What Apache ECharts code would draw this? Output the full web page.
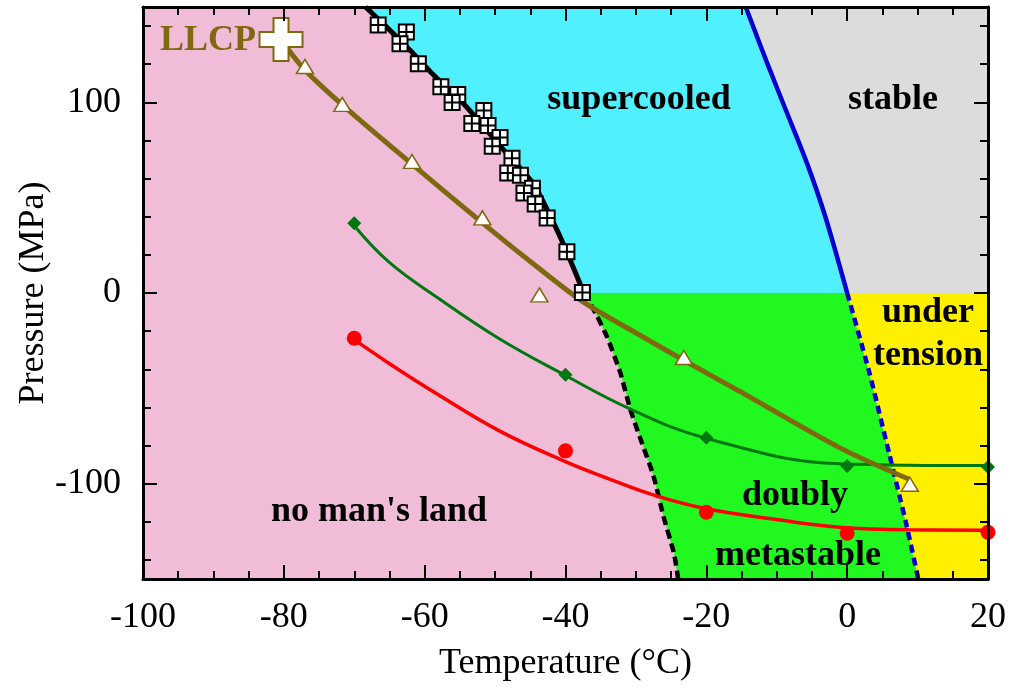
<!DOCTYPE html>
<html><head><meta charset="utf-8">
<script src="https://cdn.jsdelivr.net/npm/echarts@6/dist/echarts.min.js"></script>
<style>html,body{margin:0;padding:0;background:#fff}#c{width:1010px;height:687px}</style>
</head><body><div id="c"></div>
<script>
// ---- axis ranges / ticks ----
const xRange = [-100, 20];
const yRange = [-150, 150];
const yTickLabels = [-100, 0, 100];

// ---- boundary lines ----
// homogeneous nucleation line, measured part (P >= 0)
const hnT = [-68.4, -65.1, -62.0, -59.1, -54.4, -51.1, -48.7, -44.5, -41.2, -39.3, -37.4];
const hnP = [150, 138.4, 127, 115.7, 99, 85, 74.7, 57, 33, 17, 0];
// homogeneous nucleation line, extrapolated (dashed, P < 0)
const hnDashT = [-37.4, -35.7, -34.1, -32.2, -30.8, -29.4, -27.5, -26.1, -24.6, -24.0];
const hnDashP = [0, -10.8, -23, -42, -61, -76, -96, -117, -136.5, -150];
// melting line of ice Ih (solid, P >= 0)
const meltT = [-14.4, -11.3, -8.5, -5.7, -3.1, 0];
const meltP = [150, 120, 94, 68, 40, 0];
// melting line extrapolated (dashed, P < 0)
const meltDashT = [0, 3.1, 6.0, 8.4, 10.1];
const meltDashP = [0, -41, -84.8, -121.3, -150];

// ---- nucleation data (squares) ----
const sqT = [-66.6, -62.6, -63.5, -60.9, -57.7, -55.3, -56.1, -51.6, -53.3, -51.0, -49.3, -50.4, -47.6, -48.2, -46.4, -44.7, -45.9, -44.3, -42.6, -39.8, -37.6];
const sqP = [140.6, 136.9, 130.7, 120.3, 108.2, 104.1, 99.9, 95.7, 88.9, 87.9, 81.6, 77.0, 70.7, 62.9, 61.8, 55.0, 52.4, 46.7, 39.4, 21.6, 0.3];

// ---- LLCP and triangles (brown) ----
const llcpT = [-80.4];
const llcpP = [133];
const triT = [-77.0, -71.7, -61.8, -51.8, -43.7, -23.2, 8.9];
const triP = [118.8, 98.9, 69, 39.4, -1, -33.8, -100.3];
const brownFitT = [-80.4, -77.0, -71.2, -61.8, -51.8, -45.4, -37.6, -29.5, -22.9, -15.3, -1.1, 8.8];
const brownFitP = [133, 117, 97.1, 67.6, 36.8, 17.7, -4.4, -22.0, -35.9, -51.5, -81.1, -97.7];

// ---- green diamonds ----
const greenT = [-70, -40, -20, 0, 20];
const greenP = [36.6, -42.9, -75.9, -90.7, -91.2];
const greenFitT = [-70.3, -65.1, -58.0, -49.4, -40.2, -31.0, -20.3, -1.1, 20];
const greenFitP = [36.6, 16.3, -2.9, -24.0, -42.9, -60.5, -75.9, -89.5, -90.5];

// ---- red circles ----
const redT = [-70, -40, -20, 0, 20];
const redP = [-23.7, -82.8, -115, -126, -125.5];
const redFitT = [-70.3, -65.1, -58.0, -49.4, -40.1, -34.3, -27.2, -20.2, -10.0, -1.1, 8.8, 19.9];
const redFitP = [-23.7, -36.8, -53.5, -72.3, -88.3, -96.8, -106.3, -113.0, -118.8, -122.8, -124.2, -124.4];

const zip = (a, b) => a.map((v, i) => [v, b[i]]);
const rev = a => a.slice().reverse();

const COL = {
  pink: '#F0BCD8', cyan: '#50F0FF', gray: '#DCDCDC', green: '#20F820', yellow: '#FFF000',
  brown: '#806810', dgreen: '#007810', red: '#FF0000', blue: '#0000CC'
};

const regions = [
  { fill: COL.cyan,  pts: zip(hnT, hnP).concat(rev(zip(meltT, meltP))) },
  { fill: COL.gray,  pts: zip(meltT, meltP).concat([[xRange[1], 0], [xRange[1], yRange[1]]]) },
  { fill: COL.green, pts: zip(hnDashT, hnDashP).concat(rev(zip(meltDashT, meltDashP))) },
  { fill: COL.yellow, pts: zip(meltDashT, meltDashP).concat([[xRange[1], yRange[0]], [xRange[1], 0]]) }
];

const FONT = '"Liberation Serif", "Times New Roman", serif';
const tickStyle = { show: true, inside: true, length: 14, lineStyle: { color: '#000', width: 2 } };
const minorStyle = (n) => ({ show: true, splitNumber: n, length: 8, lineStyle: { color: '#000', width: 2 } });
const axisLine = { show: true, onZero: false, lineStyle: { color: '#000', width: 3 } };

const chart = echarts.init(document.getElementById('c'), null, { renderer: 'canvas' });
chart.setOption({
  animation: false,
  backgroundColor: '#fff',
  grid: { left: 143, right: 22, top: 7, bottom: 105, show: true, backgroundColor: COL.pink, borderWidth: 0 },
  xAxis: [
    { type: 'value', min: xRange[0], max: xRange[1], interval: 20, position: 'bottom', z: 10,
      axisLine, axisTick: tickStyle, minorTick: minorStyle(4), splitLine: { show: false },
      axisLabel: { margin: 21, color: '#000', fontSize: 36, fontFamily: FONT },
      name: 'Temperature (°C)', nameLocation: 'middle', nameGap: 67, nameMoveOverlap: false,
      nameTextStyle: { color: '#000', fontSize: 36, fontFamily: FONT } },
    { type: 'value', min: xRange[0], max: xRange[1], interval: 20, position: 'top', z: 10,
      axisLine, axisTick: tickStyle, minorTick: minorStyle(4), splitLine: { show: false },
      axisLabel: { show: false } }
  ],
  yAxis: [
    { type: 'value', min: yRange[0], max: yRange[1], splitNumber: 3, position: 'left', z: 10,
      axisLine, axisTick: tickStyle, minorTick: minorStyle(5), splitLine: { show: false },
      axisLabel: { margin: 22, color: '#000', fontSize: 36, fontFamily: FONT,
        formatter: v => (yTickLabels.indexOf(v) >= 0 ? String(v) : '') },
      name: 'Pressure (MPa)', nameLocation: 'middle', nameGap: 91, nameMoveOverlap: false,
      nameTextStyle: { color: '#000', fontSize: 36, fontFamily: FONT } },
    { type: 'value', min: yRange[0], max: yRange[1], splitNumber: 3, position: 'right', z: 10,
      axisLine, axisTick: tickStyle, minorTick: minorStyle(5), splitLine: { show: false },
      axisLabel: { show: false } }
  ],
  series: [
    { type: 'custom', z: 1, silent: true, clip: true,
      data: regions.map((r, i) => [i, 0]),
      renderItem: (params, api) => {
        const r = regions[params.dataIndex];
        return { type: 'polygon', shape: { points: r.pts.map(p => api.coord(p)) },
                 style: { fill: r.fill, stroke: null } };
      } },
    { type: 'line', z: 2, symbol: 'none', smooth: 0.2, data: zip(hnT, hnP), lineStyle: { color: '#000', width: 5 } },
    { type: 'line', z: 2, symbol: 'none', smooth: 0.2, data: zip(hnDashT, hnDashP), lineStyle: { color: '#000', width: 4.5, type: [9, 5] } },
    { type: 'line', z: 2, symbol: 'none', smooth: 0.3, data: zip(meltT, meltP), lineStyle: { color: COL.blue, width: 4.5 } },
    { type: 'line', z: 2, symbol: 'none', smooth: 0.2, data: zip(meltDashT, meltDashP), lineStyle: { color: COL.blue, width: 4.5, type: [8, 5] } },
    { type: 'line', z: 3, symbol: 'none', smooth: 0.4, data: zip(redFitT, redFitP), lineStyle: { color: COL.red, width: 3.5 } },
    { type: 'line', z: 3, symbol: 'none', smooth: 0.4, data: zip(greenFitT, greenFitP), lineStyle: { color: COL.dgreen, width: 3 } },
    { type: 'line', z: 3, symbol: 'none', smooth: 0.3, data: zip(brownFitT, brownFitP), lineStyle: { color: COL.brown, width: 5 } },
    { type: 'scatter', z: 4, data: zip(sqT, sqP), symbol: 'path://M0,0H12V12H0Z M6,0V12 M0,6H12', symbolSize: 15,
      itemStyle: { color: '#fff', borderColor: '#000', borderWidth: 2, opacity: 1 } },
    { type: 'scatter', z: 4, data: zip(triT, triP), symbol: 'triangle', symbolSize: [17, 14],
      itemStyle: { color: '#fff', borderColor: COL.brown, borderWidth: 1.5, opacity: 1 } },
    { type: 'scatter', z: 4, data: zip(greenT, greenP), symbol: 'diamond', symbolSize: [14, 14],
      itemStyle: { color: COL.dgreen, opacity: 1 } },
    { type: 'scatter', z: 4, data: zip(redT, redP), symbol: 'circle', symbolSize: 15,
      itemStyle: { color: COL.red, opacity: 1 } },
    { type: 'scatter', z: 5, data: zip(llcpT, llcpP), symbol: 'path://M14,0H29V14H43V29H29V43H14V29H0V14H14Z', symbolSize: 43,
      itemStyle: { color: '#fff', borderColor: COL.brown, borderWidth: 2, opacity: 1 } }
  ],
  graphic: [
    { type: 'text', x: 160, y: 41, z: 100, style: { text: 'LLCP', fill: COL.brown, font: 'bold 36px ' + FONT, align: 'left', verticalAlign: 'middle' } },
    { type: 'text', x: 639, y: 100, z: 100, style: { text: 'supercooled', fill: '#000', font: 'bold 36px ' + FONT, align: 'center', verticalAlign: 'middle' } },
    { type: 'text', x: 893, y: 100, z: 100, style: { text: 'stable', fill: '#000', font: 'bold 36px ' + FONT, align: 'center', verticalAlign: 'middle' } },
    { type: 'text', x: 928, y: 313, z: 100, style: { text: 'under', fill: '#000', font: 'bold 36px ' + FONT, align: 'center', verticalAlign: 'middle' } },
    { type: 'text', x: 928, y: 356, z: 100, style: { text: 'tension', fill: '#000', font: 'bold 36px ' + FONT, align: 'center', verticalAlign: 'middle' } },
    { type: 'text', x: 795, y: 496, z: 100, style: { text: 'doubly', fill: '#000', font: 'bold 36px ' + FONT, align: 'center', verticalAlign: 'middle' } },
    { type: 'text', x: 798, y: 556, z: 100, style: { text: 'metastable', fill: '#000', font: 'bold 36px ' + FONT, align: 'center', verticalAlign: 'middle' } },
    { type: 'text', x: 379, y: 512, z: 100, style: { text: "no man's land", fill: '#000', font: 'bold 36px ' + FONT, align: 'center', verticalAlign: 'middle' } }
  ]
});
</script>
</body></html>
